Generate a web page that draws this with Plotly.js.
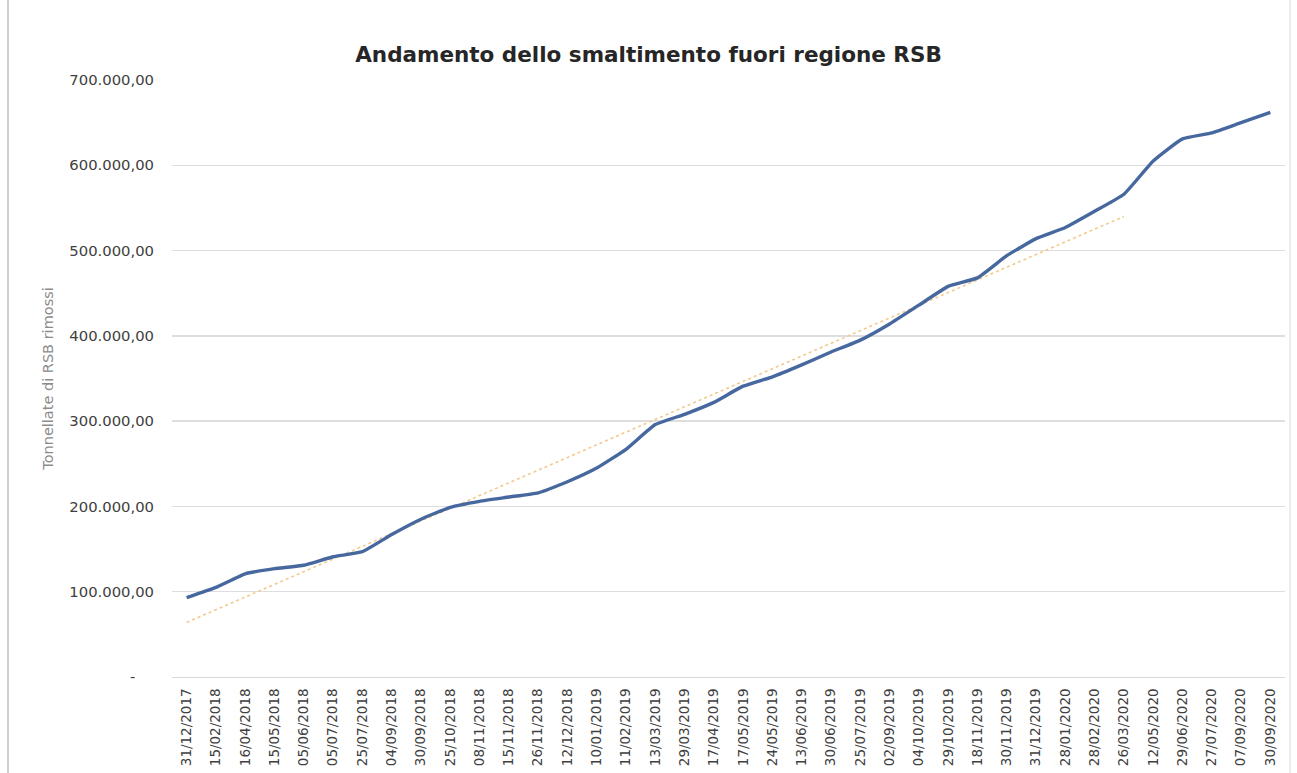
<!DOCTYPE html>
<html>
<head>
<meta charset="utf-8">
<script src="https://cdn.plot.ly/plotly-3.0.1.min.js"></script>
<style>html,body{margin:0;padding:0;background:#fff;}#chart{width:1297px;height:773px;}</style>
</head>
<body>
<div id="chart"></div>
<script>
const dates = ["31/12/2017","15/02/2018","16/04/2018","15/05/2018","05/06/2018","05/07/2018","25/07/2018","04/09/2018","30/09/2018","25/10/2018","08/11/2018","15/11/2018","26/11/2018","12/12/2018","10/01/2019","11/02/2019","13/03/2019","29/03/2019","17/04/2019","17/05/2019","24/05/2019","13/06/2019","30/06/2019","25/07/2019","02/09/2019","04/10/2019","29/10/2019","18/11/2019","30/11/2019","31/12/2019","28/01/2020","28/02/2020","26/03/2020","12/05/2020","29/06/2020","27/07/2020","07/09/2020","30/09/2020"];
const tonnes = [93000,105000,121000,127000,131000,141000,147000,167000,185000,199000,206000,211000,216000,229000,245000,267000,296000,308000,322000,341000,352000,366000,381000,395000,414000,436000,458000,468000,494000,514000,527000,546000,566000,605000,631000,638000,650000,662000];
const trendDates = ["31/12/2017","26/03/2020"];
const trendValues = [64000,540000];
const yTickVals = [0,100000,200000,300000,400000,500000,600000,700000];
const yTickText = ["-\u00a0\u00a0\u00a0\u00a0","100.000,00","200.000,00","300.000,00","400.000,00","500.000,00","600.000,00","700.000,00"];
const titleText = "Andamento dello smaltimento fuori regione RSB";
const yTitleText = "Tonnellate di RSB rimossi";

const traces = [
  {x: trendDates, y: trendValues, type: 'scatter', mode: 'lines',
   line: {color: '#f2c98e', width: 1.6, dash: 'dot'}, hoverinfo: 'skip'},
  {x: dates, y: tonnes, type: 'scatter', mode: 'lines',
   line: {color: '#46689f', width: 3.4, shape: 'spline', smoothing: 0.4}, hoverinfo: 'skip'}
];
const layout = {
  width: 1297, height: 773,
  margin: {l: 172, r: 12, t: 80, b: 96},
  paper_bgcolor: '#ffffff', plot_bgcolor: '#ffffff',
  showlegend: false,
  title: {text: titleText, x: 0.5, xref: 'container', y: 0.929, yref: 'container', yanchor: 'middle',
          font: {family: 'DejaVu Sans', size: 21.5, color: '#262626', weight: 600}},
  xaxis: {type: 'category', categoryorder: 'array', categoryarray: dates,
          tickangle: -90, tickfont: {family: 'DejaVu Sans', size: 13.5, color: '#404040'},
          showgrid: false, zeroline: false, showline: true, linecolor: '#d9d9d9', linewidth: 1,
          ticks: 'outside', ticklen: 5, tickcolor: 'rgba(0,0,0,0)', range: [-0.5, 37.5]},
  yaxis: {range: [0, 700000], tickvals: yTickVals, ticktext: yTickText,
          tickfont: {family: 'DejaVu Sans', size: 14.8, color: '#404040'},
          showgrid: true, gridcolor: '#dedede', gridwidth: 1.5, zeroline: false, showline: false,
          ticks: 'outside', ticklen: 14, tickcolor: 'rgba(0,0,0,0)',
          title: {text: yTitleText, font: {family: 'DejaVu Sans', size: 14.5, color: '#8c8c8c'}, standoff: 12}},
  shapes: [
    {type: 'line', xref: 'paper', yref: 'paper', x0: (8-172)/1113, x1: (8-172)/1113, y0: -96/597, y1: 1+80/597,
     line: {color: '#cfcfcf', width: 2}},
    {type: 'line', xref: 'paper', yref: 'paper', x0: (1290-172)/1113, x1: (1290-172)/1113, y0: -96/597, y1: 1+80/597,
     line: {color: '#e6e6e6', width: 1.5}}
  ]
};
Plotly.newPlot('chart', traces, layout, {displayModeBar: false, staticPlot: true});
</script>
</body>
</html>
